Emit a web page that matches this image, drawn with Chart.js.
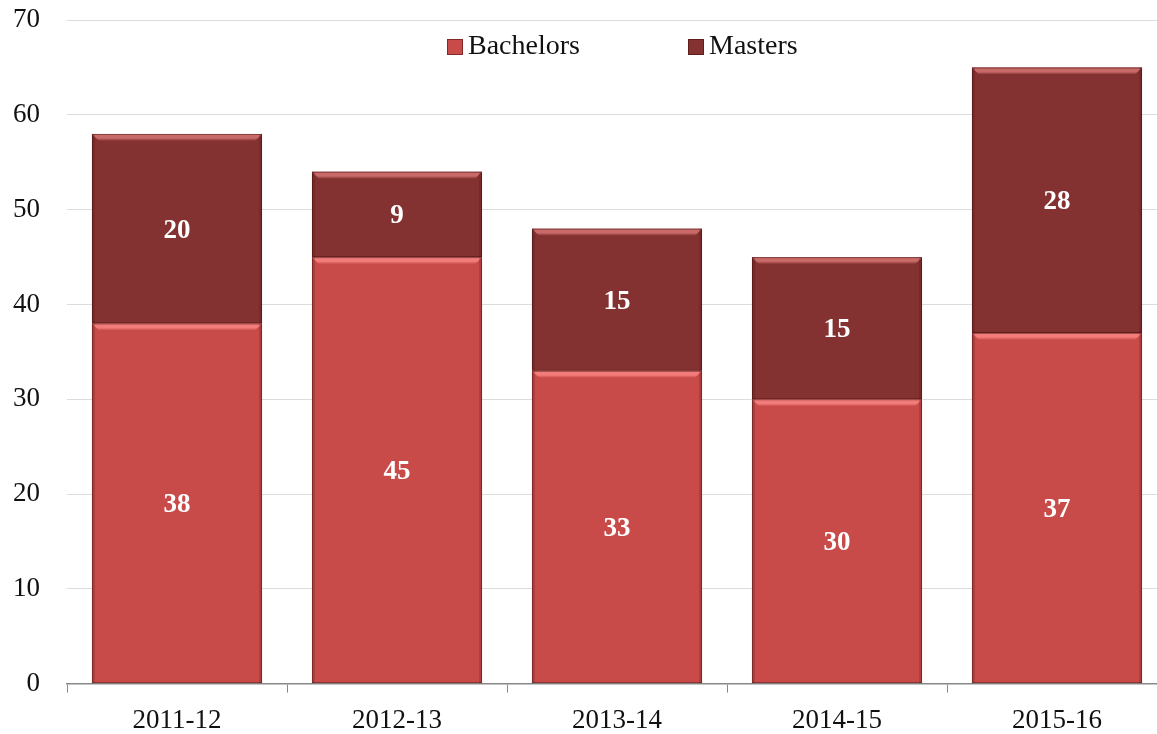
<!DOCTYPE html>
<html>
<head>
<meta charset="utf-8">
<script src="https://cdn.jsdelivr.net/npm/chart.js@4.4.0/dist/chart.umd.min.js"></script>
<style>
  html, body { margin: 0; padding: 0; background: #fff; overflow: hidden; }
  #wrap { width: 1170px; height: 772px; margin-top: -23px; }
</style>
</head>
<body>
<div id="wrap"><canvas id="chart"></canvas></div>
<script>
// chart values
const years = ['2011-12', '2012-13', '2013-14', '2014-15', '2015-16'];
const bachelors = [38, 45, 33, 30, 37];
const masters = [20, 9, 15, 15, 28];
const yTicks = [0, 10, 20, 30, 40, 50, 60, 70];

const FONT = '"Liberation Serif", "DejaVu Serif", serif';
const RED = '#C84B4A';
const DARK = '#843231';

// lighter top bevel + thin dark edge, to get the office-style look
const bevelPlugin = {
  id: 'bevel',
  afterDatasetsDraw(chart) {
    const ctx = chart.ctx;
    const tops = ['#F27C7A', '#C86A68'];
    chart.data.datasets.forEach((ds, i) => {
      chart.getDatasetMeta(i).data.forEach(bar => {
        const left = bar.x - bar.width / 2, right = bar.x + bar.width / 2;
        const top = Math.min(bar.y, bar.base), bottom = Math.max(bar.y, bar.base);
        const b = 7;
        ctx.save();
        const g = ctx.createLinearGradient(0, top, 0, top + b);
        g.addColorStop(0, tops[i]);
        g.addColorStop(0.6, tops[i]);
        g.addColorStop(1, ds.backgroundColor);
        ctx.fillStyle = g;
        ctx.beginPath();
        ctx.moveTo(left, top);
        ctx.lineTo(right, top);
        ctx.lineTo(right - b, top + b);
        ctx.lineTo(left + b, top + b);
        ctx.closePath();
        ctx.fill();
        // darker side edges
        ctx.fillStyle = 'rgba(60,10,10,0.18)';
        ctx.fillRect(left, top, 3, bottom - top);
        ctx.fillRect(right - 3, top, 3, bottom - top);
        ctx.strokeStyle = 'rgba(60,10,10,0.45)';
        ctx.lineWidth = 1;
        ctx.strokeRect(left + 0.5, top + 0.5, bar.width - 1, bottom - top - 1);
        ctx.restore();
      });
    });
  }
};

// white value labels inside each segment
const valueLabels = {
  id: 'valueLabels',
  afterDatasetsDraw(chart) {
    const ctx = chart.ctx;
    ctx.save();
    ctx.fillStyle = '#fff';
    ctx.font = 'bold 27px ' + FONT;
    ctx.textAlign = 'center';
    ctx.textBaseline = 'middle';
    chart.data.datasets.forEach((ds, i) => {
      chart.getDatasetMeta(i).data.forEach((bar, j) => {
        ctx.fillText(ds.data[j], bar.x, (bar.y + bar.base) / 2 + 2);
      });
    });
    ctx.restore();
  }
};

// legend drawn inside the plot area near the top
const innerLegend = {
  id: 'innerLegend',
  afterDraw(chart) {
    const ctx = chart.ctx;
    const xs = [447, 688];
    const y = 70;
    ctx.save();
    ctx.font = '28px ' + FONT;
    ctx.textBaseline = 'middle';
    chart.data.datasets.forEach((ds, i) => {
      ctx.fillStyle = ds.backgroundColor;
      ctx.fillRect(xs[i], y - 8, 16, 16);
      ctx.strokeStyle = 'rgba(60,10,10,0.5)';
      ctx.strokeRect(xs[i] + 0.5, y - 7.5, 15, 15);
      ctx.fillStyle = '#111';
      ctx.fillText(ds.label, xs[i] + 21, y);
    });
    ctx.restore();
  }
};

new Chart(document.getElementById('chart'), {
  type: 'bar',
  data: {
    labels: years,
    datasets: [
      { label: 'Bachelors', data: bachelors, backgroundColor: RED },
      { label: 'Masters', data: masters, backgroundColor: DARK }
    ]
  },
  options: {
    responsive: true,
    maintainAspectRatio: false,
    animation: false,
    layout: { padding: { top: 0, right: 3, left: 0, bottom: 0 } },
    datasets: { bar: { categoryPercentage: 1, barPercentage: 0.773 } },
    plugins: { legend: { display: false }, tooltip: { enabled: false } },
    scales: {
      x: {
        stacked: true,
        grid: { display: true, drawOnChartArea: false, offset: true, tickLength: 9, color: '#888' },
        border: { color: '#888', width: 1.5 },
        ticks: { color: '#111', font: { family: FONT, size: 27 }, padding: 12 }
      },
      y: {
        stacked: true,
        min: 0,
        max: 70,
        afterBuildTicks(axis) { axis.ticks = yTicks.map(v => ({ value: v })); },
        afterFit(axis) { axis.width = 67; },
        grid: { color: '#dcdcdc', drawTicks: false },
        border: { display: false },
        ticks: { color: '#111', font: { family: FONT, size: 27 }, padding: 27 }
      }
    }
  },
  plugins: [bevelPlugin, valueLabels, innerLegend]
});
</script>
</body>
</html>
